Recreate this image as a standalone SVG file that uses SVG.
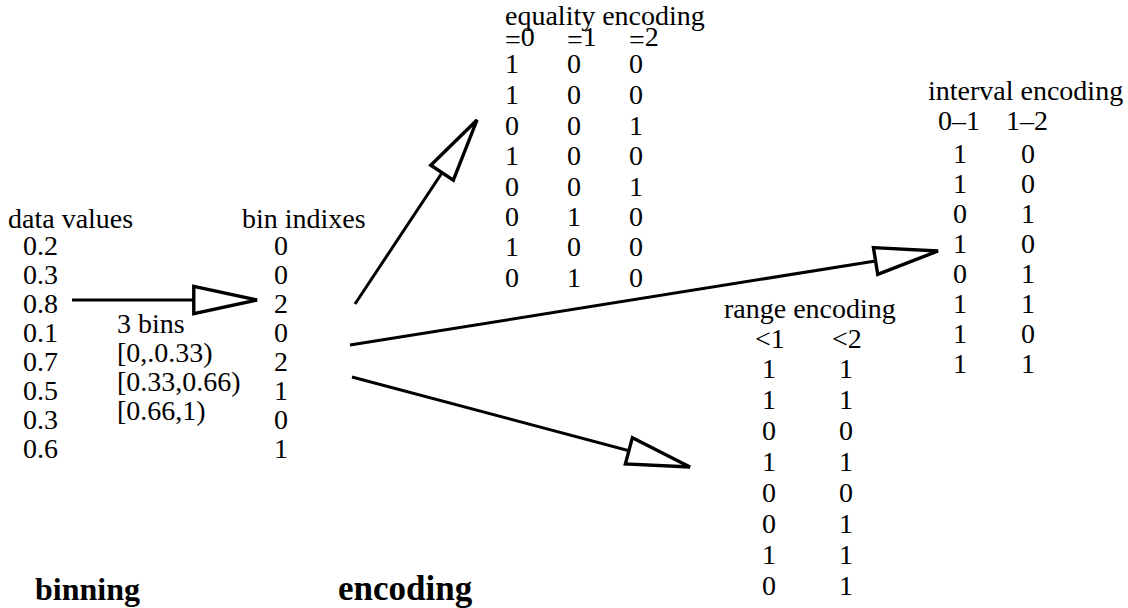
<svg xmlns="http://www.w3.org/2000/svg" width="1128" height="608" viewBox="0 0 1128 608">
<style>
text{font-family:"Liberation Serif","Times New Roman",serif;font-size:28px;fill:#000}
.b{font-weight:bold;font-size:33px}
.c{stroke:#000;stroke-width:3;fill:none}
</style>
<defs>
<marker id="ah" markerUnits="userSpaceOnUse" markerWidth="70" markerHeight="40" viewBox="-3 -15 62 30" refX="56" refY="0" orient="auto">
<path d="M0,-12 L56,0 L0,12 Z" fill="#fff" stroke="#000" stroke-width="3" stroke-linejoin="miter"/>
</marker>
</defs>
<rect width="1128" height="608" fill="#fff"/>
<g id="data-values">
<text x="8" y="228">data values</text>
<text x="23" y="255">0.2</text>
<text x="23" y="284">0.3</text>
<text x="23" y="313">0.8</text>
<text x="23" y="342">0.1</text>
<text x="23" y="371">0.7</text>
<text x="23" y="400">0.5</text>
<text x="23" y="429">0.3</text>
<text x="23" y="458">0.6</text>
</g>
<g id="bins">
<text x="117" y="333">3 bins</text>
<text x="117" y="362">[0,.0.33)</text>
<text x="117" y="391">[0.33,0.66)</text>
<text x="117" y="420">[0.66,1)</text>
</g>
<g id="bin-indixes">
<text x="242" y="228">bin indixes</text>
<text x="274" y="255">0</text>
<text x="274" y="284">0</text>
<text x="274" y="313">2</text>
<text x="274" y="342">0</text>
<text x="274" y="371">2</text>
<text x="274" y="400">1</text>
<text x="274" y="429">0</text>
<text x="274" y="458">1</text>
</g>
<g id="equality-encoding">
<text x="505" y="25">equality encoding</text>
<text x="505" y="46"><tspan dy="3">=</tspan><tspan dy="-3">0</tspan></text>
<text x="567" y="46"><tspan dy="3">=</tspan><tspan dy="-3">1</tspan></text>
<text x="629" y="46"><tspan dy="3">=</tspan><tspan dy="-3">2</tspan></text>
<text x="505" y="73">1</text><text x="567" y="73">0</text><text x="629" y="73">0</text>
<text x="505" y="104">1</text><text x="567" y="104">0</text><text x="629" y="104">0</text>
<text x="505" y="135">0</text><text x="567" y="135">0</text><text x="629" y="135">1</text>
<text x="505" y="165">1</text><text x="567" y="165">0</text><text x="629" y="165">0</text>
<text x="505" y="196">0</text><text x="567" y="196">0</text><text x="629" y="196">1</text>
<text x="505" y="226">0</text><text x="567" y="226">1</text><text x="629" y="226">0</text>
<text x="505" y="256">1</text><text x="567" y="256">0</text><text x="629" y="256">0</text>
<text x="505" y="287">0</text><text x="567" y="287">1</text><text x="629" y="287">0</text>
</g>
<g id="interval-encoding">
<text x="928" y="100">interval encoding</text>
<text x="938" y="130">0–1</text><text x="1006" y="130">1–2</text>
<text x="953" y="163">1</text><text x="1021" y="163">0</text>
<text x="953" y="193">1</text><text x="1021" y="193">0</text>
<text x="953" y="223">0</text><text x="1021" y="223">1</text>
<text x="953" y="253">1</text><text x="1021" y="253">0</text>
<text x="953" y="283">0</text><text x="1021" y="283">1</text>
<text x="953" y="313">1</text><text x="1021" y="313">1</text>
<text x="953" y="343">1</text><text x="1021" y="343">0</text>
<text x="953" y="373">1</text><text x="1021" y="373">1</text>
</g>
<g id="range-encoding">
<text x="724" y="318">range encoding</text>
<text x="755" y="348">&lt;1</text><text x="832" y="348">&lt;2</text>
<text x="762" y="378">1</text><text x="839" y="378">1</text>
<text x="762" y="409">1</text><text x="839" y="409">1</text>
<text x="762" y="440">0</text><text x="839" y="440">0</text>
<text x="762" y="471">1</text><text x="839" y="471">1</text>
<text x="762" y="502">0</text><text x="839" y="502">0</text>
<text x="762" y="533">0</text><text x="839" y="533">1</text>
<text x="762" y="564">1</text><text x="839" y="564">1</text>
<text x="762" y="595">0</text><text x="839" y="595">1</text>
</g>
<g id="labels">
<text class="b" x="35" y="600" style="font-size:32px">binning</text>
<text class="b" x="338" y="600" style="font-size:35px">encoding</text>
</g>
<g id="connectors">
<line class="c" x1="72" y1="300" x2="257" y2="300" marker-end="url(#ah)"/>
<line class="c" x1="355" y1="304" x2="477" y2="120" marker-end="url(#ah)"/>
<line class="c" x1="350" y1="345" x2="938" y2="251" marker-end="url(#ah)"/>
<line class="c" x1="352" y1="377" x2="690" y2="467" marker-end="url(#ah)"/>
</g>
</svg>
